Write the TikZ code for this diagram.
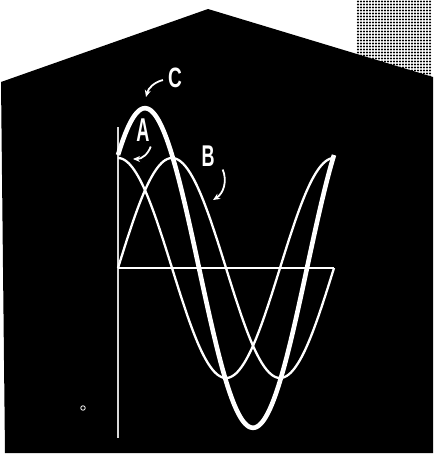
\documentclass[tikz,border=0pt]{standalone}
\usepackage{fontspec}
\setmainfont{Liberation Sans}
\usetikzlibrary{arrows.meta}

\begin{document}
\begin{tikzpicture}[
  x=1pt, y=-1pt,
  wave/.style={white, line width=2.3pt},
  sumwave/.style={white, line width=4.6pt},
  ptr/.style={white, line width=1.8pt, -{Stealth[length=7pt,width=6pt]}},
  letter/.style={white, inner sep=0pt, font=\bfseries},
]
  \useasboundingbox (0,0) rectangle (436,455);

  % Halftone corner
  \foreach \i in {0,...,24}
    \foreach \j in {0,...,25}
      \fill (358+3*\i, 1.5+3*\j) circle (1.1);

  % Black panel
  \fill (208,9) -- (433,77) -- (433,453) -- (5,453) -- (1,82) -- cycle;

  % Axes
  \draw[white!85!black, line width=1.2pt] (118,127) -- (118,438);
  \draw[white, line width=1.6pt] (118,268) -- (334,268);

  % Waves A, B and their sum C
  \draw[wave] plot[domain=118:334, samples=120]
    (\x, {268-110*cos((\x-118)/216*360)});
  \draw[wave] plot[domain=118:334, samples=120]
    (\x, {268-110*sin((\x-118)/216*360)});
  \draw[sumwave] plot[domain=118:334, samples=140]
    (\x, {268-113*(cos((\x-118)/216*360)+sin((\x-118)/216*360))});

  % Labels
  \node[letter] (labC) at (175,78)  {\fontsize{28}{28}\selectfont\scalebox{0.68}[1]{C}};
  \node[letter] (labA) at (143,130) {\fontsize{33}{33}\selectfont\scalebox{0.55}[1]{A}};
  \node[letter] (labB) at (208,156) {\fontsize{30}{30}\selectfont\scalebox{0.6}[1]{B}};

  \coordinate (cpeak)  at (146,97);
  \coordinate (astart) at (133,159);
  \coordinate (bwave)  at (213,200);

  \draw[ptr] ([xshift=-5pt,yshift=-2pt]labC.west) to[bend right=30] (cpeak);
  \draw[ptr] ([xshift=1pt,yshift=-5pt]labA.south east) to[bend left=35] (astart);
  \draw[ptr] ([xshift=8pt,yshift=-3pt]labB.south east) to[bend left=40] (bwave);

  % Small mark
  \node[draw=white, circle, line width=0.8pt, minimum size=4.5pt, inner sep=0pt] (spot) at (83,408) {};

\end{tikzpicture}
\end{document}
